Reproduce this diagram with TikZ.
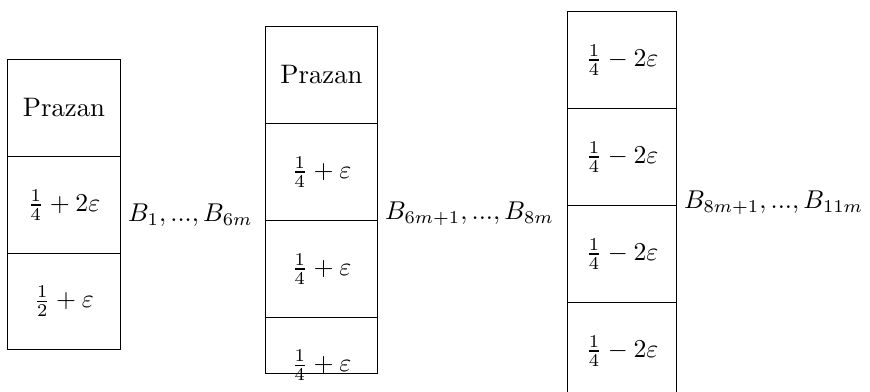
\documentclass[tikz,border=0pt]{standalone}
\begin{document}
\begin{tikzpicture}[x=0.389pt,y=-0.389pt,
  every node/.append style={font=\fontsize{10.4}{12.5}\selectfont},
  cell/.style={draw,rectangle,inner sep=0pt,outer sep=0pt,anchor=north west},
  lbl/.style={inner sep=0pt,anchor=base west}]
\useasboundingbox (0,0) rectangle (870,392);
\clip (0,0) rectangle (870,392);
\begin{scope}[shift={(0.5,0.5)}]
% bin group 1
\node[cell,minimum width=113*0.389pt,minimum height=97*0.389pt] (a1) at (7,59) {Prazan};
\node[cell,minimum width=113*0.389pt,minimum height=97*0.389pt] (a2) at (7,156) {$\frac14+2\varepsilon$};
\node[cell,minimum width=113*0.389pt,minimum height=96*0.389pt] (a3) at (7,253) {$\frac12+\varepsilon$};
\node[lbl] (la) at (127,221) {$B_1, ..., B_{6m}$};
% bin group 2
\node[cell,minimum width=112*0.389pt,minimum height=97*0.389pt] (b1) at (265,26) {Prazan};
\node[cell,minimum width=112*0.389pt,minimum height=97*0.389pt] (b2) at (265,123) {$\frac14+\varepsilon$};
\node[cell,minimum width=112*0.389pt,minimum height=97*0.389pt] (b3) at (265,220) {$\frac14+\varepsilon$};
\node[inner sep=0pt] (b4) at (321,365) {$\frac14+\varepsilon$};
\draw (b3.south west) -- ++(0,56) -| (b3.south east);
\node[lbl] (lb) at (384,219) {$B_{6m+1}, ..., B_{8m}$};
% bin group 3
\node[cell,minimum width=109*0.389pt,minimum height=97*0.389pt] (c1) at (567,11) {$\frac14-2\varepsilon$};
\node[cell,minimum width=109*0.389pt,minimum height=97*0.389pt] (c2) at (c1.south west) {$\frac14-2\varepsilon$};
\node[cell,minimum width=109*0.389pt,minimum height=97*0.389pt] (c3) at (c2.south west) {$\frac14-2\varepsilon$};
\node[cell,minimum width=109*0.389pt,minimum height=97*0.389pt] (c4) at (c3.south west) {$\frac14-2\varepsilon$};
\node[lbl] (lc) at (683,208) {$B_{8m+1}, ..., B_{11m}$};
\end{scope}
\end{tikzpicture}
\end{document}
